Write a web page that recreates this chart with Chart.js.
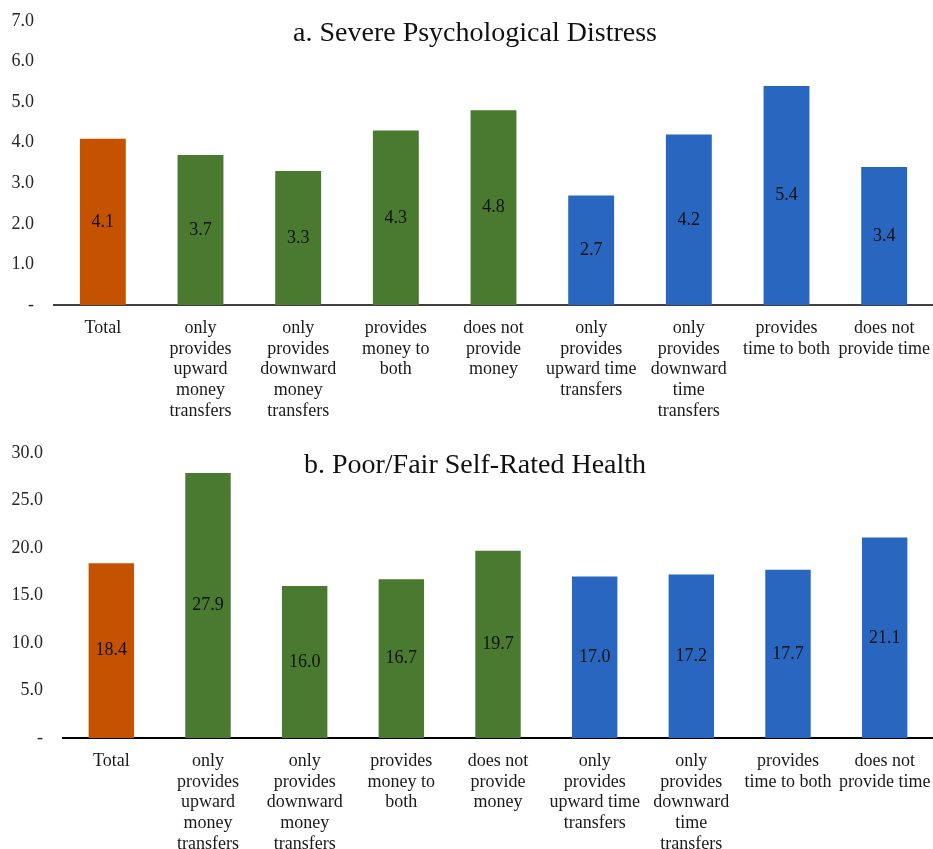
<!DOCTYPE html>
<html>
<head>
<meta charset="utf-8">
<script src="https://cdn.jsdelivr.net/npm/chart.js@4"></script>
<style>
  html, body { margin: 0; padding: 0; background: #ffffff; }
  #wrap { position: relative; width: 933px; height: 849px; }
  .box { position: absolute; left: 0; width: 933px; }
  #boxA { top: 0; height: 420px; }
  #boxB { top: 420px; height: 429px; }
</style>
</head>
<body>
<div id="wrap">
  <div class="box" id="boxA"><canvas id="chartA"></canvas></div>
  <div class="box" id="boxB"><canvas id="chartB"></canvas></div>
</div>
<script>
// ---- Data ----
const categories = [
  "Total",
  ["only", "provides", "upward", "money", "transfers"],
  ["only", "provides", "downward", "money", "transfers"],
  ["provides", "money to", "both"],
  ["does not", "provide", "money"],
  ["only", "provides", "upward time", "transfers"],
  ["only", "provides", "downward", "time", "transfers"],
  ["provides", "time to both"],
  ["does not", "provide time"]
];
const distressValues = [4.1, 3.7, 3.3, 4.3, 4.8, 2.7, 4.2, 5.4, 3.4];
const healthValues = [18.4, 27.9, 16.0, 16.7, 19.7, 17.0, 17.2, 17.7, 21.1];
const titleA = "a. Severe Psychological Distress";
const titleB = "b. Poor/Fair Self-Rated Health";
const groupColors = ["#C55200", "#4A7A2F", "#4A7A2F", "#4A7A2F", "#4A7A2F",
                     "#2966C0", "#2966C0", "#2966C0", "#2966C0"];

const FONT = "'Liberation Serif', 'Times New Roman', serif";

function makeChart(canvasId, values, title, yMax, yStep, yAxisWidth, xAxisHeight, topPad, axisColor) {
  const titlePlugin = {
    id: 'innerTitle',
    afterDraw(chart) {
      const ctx = chart.ctx;
      ctx.save();
      ctx.font = "28px " + FONT;
      ctx.fillStyle = "#111111";
      ctx.textAlign = "center";
      ctx.textBaseline = "alphabetic";
      ctx.fillText(title, 475, chart.chartArea.top + 20);
      ctx.restore();
    }
  };
  const labelPlugin = {
    id: 'centerLabels',
    afterDatasetsDraw(chart) {
      const ctx = chart.ctx;
      const meta = chart.getDatasetMeta(0);
      ctx.save();
      ctx.font = "18px " + FONT;
      ctx.fillStyle = "#111111";
      ctx.textAlign = "center";
      ctx.textBaseline = "middle";
      meta.data.forEach((bar, i) => {
        const v = chart.data.datasets[0].data[i];
        ctx.fillText(v.toFixed(1), bar.x, (bar.y + bar.base) / 2);
      });
      ctx.restore();
    }
  };
  return new Chart(document.getElementById(canvasId), {
    type: 'bar',
    data: {
      labels: categories,
      datasets: [{
        data: values,
        backgroundColor: groupColors,
        borderWidth: 0,
        barPercentage: 0.47,
        categoryPercentage: 1.0
      }]
    },
    options: {
      responsive: true,
      maintainAspectRatio: false,
      animation: false,
      layout: { padding: { top: topPad, right: 0, bottom: 0, left: 0 } },
      plugins: {
        legend: { display: false },
        title: { display: false },
        tooltip: { enabled: false }
      },
      scales: {
        x: {
          grid: { display: false, drawTicks: false },
          border: { display: true, color: axisColor, width: 2 },
          ticks: {
            color: '#1a1a1a',
            font: { family: FONT, size: 18, lineHeight: 1.15 },
            padding: 13,
            maxRotation: 0,
            minRotation: 0,
            autoSkip: false
          },
          afterFit(s) { s.height = xAxisHeight; s.paddingLeft = 0; s.paddingRight = 0; }
        },
        y: {
          min: 0,
          max: yMax,
          grid: { display: false, drawTicks: false },
          border: { display: false },
          ticks: {
            stepSize: yStep,
            color: '#262626',
            font: { family: FONT, size: 18 },
            padding: 20,
            callback: (v) => v === 0 ? '-' : Number(v).toFixed(1)
          },
          afterFit(s) { s.width = yAxisWidth; s.paddingTop = 0; s.paddingBottom = 0; }
        }
      }
    },
    plugins: [titlePlugin, labelPlugin]
  });
}

makeChart('chartA', distressValues, titleA, 7, 1, 54, 115, 21, '#404040');
makeChart('chartB', healthValues, titleB, 30, 5, 63, 111, 33, '#000000');
</script>
</body>
</html>
